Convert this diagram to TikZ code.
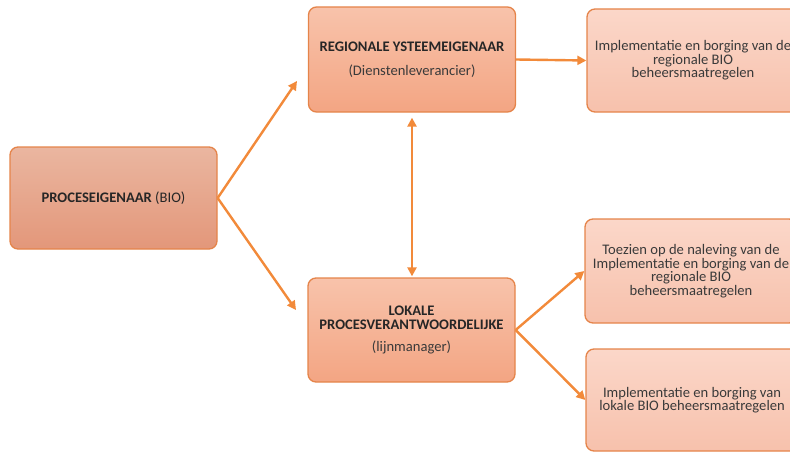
\documentclass[tikz,border=0pt]{standalone}
\usepackage{fontspec}
\setmainfont{Carlito}
\usetikzlibrary{arrows.meta}
\definecolor{arrowc}{HTML}{F28A3A}
\definecolor{borderc}{HTML}{E5844A}
\definecolor{txt}{HTML}{262626}
\definecolor{txt2}{HTML}{3A3A3A}
\definecolor{atop}{HTML}{EAB6A0}
\definecolor{abot}{HTML}{E3977A}
\definecolor{btop}{HTML}{F8C3AB}
\definecolor{bbot}{HTML}{F3A583}
\definecolor{ctop}{HTML}{FBD7C9}
\definecolor{cbot}{HTML}{F7C1AC}
\tikzset{
  box/.style={draw=borderc, line width=1.3pt, rounded corners=8pt, minimum width=207pt, minimum height=103pt, align=center, text=txt, inner sep=2pt,
    font=\fontsize{14.6}{13.6}\selectfont},
  boxA/.style={box, top color=atop, bottom color=abot},
  boxB/.style={box, top color=btop, bottom color=bbot},
  boxC/.style={box, top color=ctop, bottom color=cbot, minimum width=212pt, text=txt2},
  conn/.style={draw=arrowc, line width=2.4pt, -{Triangle[length=9pt,width=9pt]}},
  conn2/.style={draw=arrowc, line width=2.4pt, {Triangle[length=9pt,width=9pt]}-{Triangle[length=9pt,width=9pt]}}
}
\begin{document}
\begin{tikzpicture}[x=1pt,y=-1pt]
\useasboundingbox (0,0) rectangle (790,452);
\node[boxA, minimum height=102pt] (A) at (113.5,198) {\textbf{PROCESEIGENAAR} (BIO)};
\node[boxB, minimum height=105pt] (B) at (412,59.5) {\textbf{REGIONALE YSTEEMEIGENAAR}\\[10pt]{\color{txt2}(Dienstenleverancier)}};
\node[boxC] (C) at (693,60.5) {Implementatie en borging van de\\regionale BIO\\beheersmaatregelen};
\node[boxB, minimum height=104pt] (D) at (411.5,330) {\textbf{LOKALE}\\\textbf{PROCESVERANTWOORDELIJKE}\\[9pt]{\color{txt2}(lijnmanager)}};
\node[boxC, minimum height=104pt] (E) at (691,271) {Toezien op de naleving van de\\Implementatie en borging van de\\regionale BIO\\beheersmaatregelen};
\node[boxC, minimum height=102pt] (F) at (692,400) {Implementatie en borging van\\lokale BIO beheersmaatregelen};
\coordinate (p1) at (297,81);
\coordinate (p2) at (296,310);
\draw[conn] (A.east) -- (p1);
\draw[conn] (A.east) -- (p2);
\draw[conn] (B.east) -- (C.west);
\draw[conn2, shorten <=5pt, shorten >=1pt] (B.south) -- (B.south |- D.north);
\draw[conn] (D.east) -- (E.west);
\draw[conn] (D.east) -- (F.west);
\end{tikzpicture}
\end{document}
